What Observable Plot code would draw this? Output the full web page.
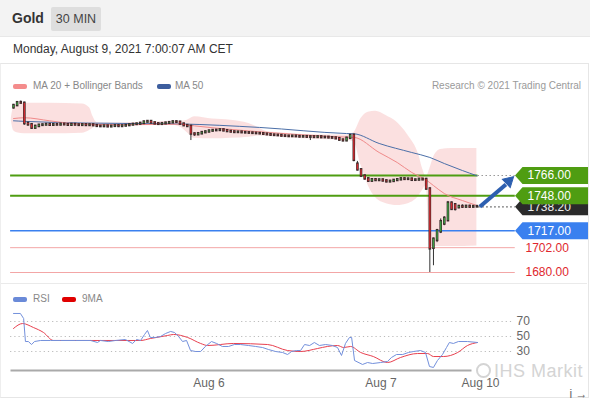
<!DOCTYPE html>
<html><head><meta charset="utf-8">
<script src="https://cdn.jsdelivr.net/npm/d3@7"></script>
<script src="https://cdn.jsdelivr.net/npm/@observablehq/plot@0.6"></script>
<style>
body{margin:0;width:590px;height:400px;overflow:hidden;font-family:"Liberation Sans",Arial,sans-serif;background:#fff;position:relative}
.abs{position:absolute}
#hdr{left:0;top:0;width:590px;height:36px;background:#f3f3f3;border-bottom:1px solid #e8e8e8}
#gold{left:12px;top:10px;font-size:14px;font-weight:bold;color:#333}
#tf{left:51px;top:7px;width:50px;height:24px;background:#dedede;color:#444;font-size:12.5px;line-height:24px;text-align:center;border-radius:2px}
#date{left:13px;top:42px;font-size:12px;color:#333}
#card{left:0;top:63px;width:587px;height:333px;border:1px solid #e6e6e6;border-left:1px solid #eee}
#sep{left:1px;top:283px;width:586px;height:1px;background:#eaeaea}
.lg{font-size:10px;color:#888;white-space:nowrap}
.sw{width:14px;height:5px;border-radius:2px}
#price,#rsi{left:0}
#price{top:95px}
#rsi{top:285px}
#wm{left:476px;top:361px;font-size:18px;color:#d4d4d4;white-space:nowrap;letter-spacing:0.5px;line-height:20px}
#wm .c{display:inline-block;width:11px;height:11px;border:2px solid #d4d4d4;border-radius:50%;vertical-align:-1px;margin-right:3px}
</style></head>
<body>
<div id="hdr" class="abs"></div>
<div id="gold" class="abs">Gold</div>
<div id="tf" class="abs">30 MIN</div>
<div id="date" class="abs">Monday, August 9, 2021 7:00:07 AM CET</div>
<div id="card" class="abs"></div>
<div id="sep" class="abs"></div>
<div class="abs sw" style="left:13px;top:84px;background:#f48c8c"></div>
<div class="abs lg" style="left:33px;top:80px">MA 20 + Bollinger Bands</div>
<div class="abs sw" style="left:157px;top:84px;background:#3d5e9e"></div>
<div class="abs lg" style="left:175px;top:80px">MA 50</div>
<div class="abs lg" style="right:9px;top:80px;color:#9a9a9a">Research © 2021 Trading Central</div>
<div class="abs sw" style="left:13px;top:297px;background:#6a8ad8"></div>
<div class="abs lg" style="left:33px;top:293px">RSI</div>
<div class="abs sw" style="left:62px;top:297px;background:#e00000"></div>
<div class="abs lg" style="left:82px;top:293px">9MA</div>
<div id="price" class="abs"></div>
<div id="rsi" class="abs"></div>
<div id="wm" class="abs"><span class="c"></span>IHS Markit</div>
<script>
// ---- candles (30 min) ----
const open = [1826,1828,1830.6,1830,1812,1811,1808,1809.5,1810.5,1810.8,
1811.2,1810.6,1811,1810.8,1811.4,1811,1810.6,1811.2,1810.8,1810.5,
1810.9,1810.4,1810.8,1810.2,1809.6,1809.4,1809.8,1809.2,1809.6,1810,
1809.5,1809.9,1810.3,1810.8,1811.3,1811.6,1812.2,1813.4,1813.8,1812.6,
1811.8,1811.4,1811.9,1812.4,1812.8,1813.5,1813.2,1811.6,1810.2,1809.6,
1802.8,1802.2,1803,1804,1804.6,1805.4,1805.8,1806,1806.4,1805.6,
1805,1804.6,1804.2,1804.4,1804,1803.8,1803.6,1803.4,1803.2,1803,
1802.6,1802.2,1801.8,1801.6,1801.4,1801,1800.8,1800.6,1800.8,1800.5,
1800.2,1800.4,1800,1800.2,1799.8,1800.2,1799.6,1799.8,1799.4,1799.2,
1798.6,1797.4,1796.8,1799,1801.6,1776,1771,1765.5,1763,1761,
1762.2,1761.6,1762,1761.2,1760.4,1760.8,1761.6,1762.2,1763,1762.6,
1762.8,1761.8,1762,1762.6,1762.4,1754,1701.5,1708.5,1716,1723,
1726,1741.5,1740,1737.5,1738.5,1738,1738.6,1738,1738.4];
const close = [1828,1830.5,1830.2,1812,1811,1808,1809.5,1810.5,1810.8,1811.2,
1810.6,1811,1810.8,1811.4,1811,1810.6,1811.2,1810.8,1810.5,1810.9,
1810.4,1810.8,1810.2,1809.6,1809.4,1809.8,1809.2,1809.6,1810,1809.5,
1809.9,1810.3,1810.8,1811.3,1811.6,1812.2,1813.4,1813.8,1812.6,1811.8,
1811.4,1811.9,1812.4,1812.8,1813.5,1813.2,1811.6,1810.2,1809.5,1802.8,
1802.2,1803,1804,1804.6,1805.4,1805.8,1806,1806.4,1805.6,1805,
1804.6,1804.2,1804.4,1804,1803.8,1803.6,1803.4,1803.2,1803,1802.6,
1802.2,1801.8,1801.6,1801.4,1801,1800.8,1800.6,1800.8,1800.5,1800.2,
1800.4,1800,1800.2,1799.8,1800.2,1799.6,1799.8,1799.4,1799.2,1798.6,
1797.4,1796.8,1799,1801.4,1779.5,1771,1765.5,1763,1761,1762.2,
1761.6,1762,1761.2,1760.4,1760.8,1761.6,1762.2,1763,1762.6,1762.8,
1761.8,1762,1762.6,1762.2,1754,1701,1709.5,1717,1725,1728,
1741.5,1736,1736,1738.5,1738,1738.6,1738,1738.4,1738.2];
const high = [1829,1831.5,1832,1831,1813.5,1812,1810.5,1811.3,1811.5,1812,
1811.9,1811.7,1811.6,1812.1,1812,1811.6,1811.9,1811.8,1811.4,1811.6,
1811.5,1811.4,1811.4,1810.8,1810.3,1810.5,1810.4,1810.3,1810.7,1810.6,
1810.6,1811,1811.5,1812,1812.3,1812.9,1814.2,1814.6,1814.4,1813.2,
1812.4,1812.6,1813.1,1813.5,1814.3,1814.2,1813.8,1812.2,1810.9,1810.2,
1803.6,1803.8,1804.8,1805.4,1806.2,1806.6,1806.8,1807.2,1807,1806.3,
1805.7,1805.3,1805.1,1805.1,1804.7,1804.5,1804.3,1804.1,1803.9,1803.7,
1803.3,1802.9,1802.5,1802.3,1802.1,1801.7,1801.5,1801.5,1801.5,1801.2,
1801.1,1801.1,1800.9,1800.9,1800.9,1800.9,1800.5,1800.5,1800.1,1799.9,
1799.3,1798.1,1799.8,1802.2,1802.6,1778.5,1772,1766.3,1763.8,1763,
1763,1762.8,1762.7,1761.9,1761.6,1762.4,1763,1763.8,1763.7,1763.5,
1763.5,1762.7,1763.3,1763.3,1763.5,1755,1710.5,1718.2,1727.5,1729.5,
1743,1742.5,1741,1739.5,1740,1739.5,1739.6,1739.2,1739];
const low = [1825,1827.5,1829.5,1810.5,1809.5,1807,1807.5,1808.8,1809.8,1810.2,
1810,1810,1810.1,1810.2,1810.4,1809.9,1810,1810.1,1809.8,1809.9,
1809.7,1809.8,1809.5,1808.9,1808.7,1808.8,1808.5,1808.6,1809,1808.8,
1808.9,1809.3,1809.7,1810.2,1810.7,1811,1811.6,1812.8,1812,1811.1,
1810.7,1810.8,1811.3,1811.8,1812.2,1812.5,1811,1809.5,1808.8,1797,
1800.8,1801.4,1802.3,1803.3,1804,1804.7,1805.1,1805.3,1804.9,1804.3,
1803.9,1803.5,1803.5,1803.3,1803.1,1802.9,1802.7,1802.5,1802.3,1801.9,
1801.5,1801.1,1800.9,1800.7,1800.3,1800.1,1799.9,1799.9,1799.8,1799.5,
1799.5,1799.3,1797,1799.1,1799.1,1798.9,1798.9,1798.7,1798.5,1797.9,
1796.6,1795.8,1796.1,1798.4,1778.2,1770,1764.2,1762,1760,1760.3,
1760.8,1760.9,1760.4,1759.6,1759.6,1760.1,1760.9,1761.5,1761.9,1761.9,
1761.1,1761.1,1761.3,1761.5,1753.2,1680,1686,1706.5,1714.5,1721.5,
1725,1735,1734.5,1736.5,1736.8,1737,1737.2,1737.3,1737.4];

// ---- moving averages ----
const ma20Idx = [0,3,10,16,30,46,50,56,65,80,92,94,101,106,110,114,116,119,124,128];
const ma20Val = [1816.5,1817.2,1814.5,1812.2,1811,1811.5,1810,1808,1805.5,1802,1800,1799.8,1786.4,1777.5,1768.7,1762,1757.1,1750,1743.8,1739.4];
const ma50Idx = [0,3,20,46,68,92,94,101,110,115,119,124,128];
const ma50Val = [1814.5,1814,1812.5,1811.7,1808.6,1803.2,1803,1794.4,1786.4,1782,1776.6,1770.4,1765.8];

// ---- Bollinger bands ----
const bandIdx = [-0.6,0,1,3,10,19,21,22,23,25,35,44,46,48,50,55,60,65,68,70,75,85,92,94,96,98,100,103,106,109,112,113,114,115,116,118,121,128];
const bandUp  = [1817,1826,1829,1830,1830,1829.5,1826,1818,1813,1812.5,1813,1814,1814,1815,1818,1816,1815,1812,1808,1805,1803.5,1802,1802,1804,1816.5,1822,1823,1819,1813,1801.5,1783.7,1772,1765,1772,1782,1789,1790,1790];
const bandLo  = [1815,1806,1804,1803,1803,1803.5,1806,1808,1809.5,1809,1810,1810.5,1809,1804,1799,1798.5,1799,1800,1801,1800.5,1799.5,1798,1797,1796,1775,1757,1746.5,1741,1739.4,1741,1748,1753,1757,1703,1703,1703,1703,1703.5];

// ---- levels ----
const levelValues = [1766, 1748, 1717, 1702, 1680];
const levelKinds  = ["res", "res", "pivot", "sup", "sup"];
const lastPrice = 1738.2;
const target = 1766;

// ---- RSI ----
const rsiIdx = [0,1.9,2.8,3.3,4.1,5,5.8,7.5,10.2,13,17.1,21.3,23.2,24,26.2,28.2,30.9,32.9,34,35.1,36.2,37,37.8,39.2,40.6,42,43.4,44.5,45.6,46.7,47.8,48.9,50.3,51.7,53,54.7,56.1,57.7,59.4,61,62.7,64.9,66.9,68.8,70.4,72.4,74.3,75.7,76.8,78.2,79.3,80.4,81.8,83.1,84.5,86.2,88.1,89.5,90.6,91.7,92.8,93.4,94.2,96.4,97.8,99.2,101.4,103.3,104.4,105.8,107.5,109.1,110.5,112.4,113.8,114.9,116,117.1,118.5,119.6,120.4,121.5,122.9,125.4,128.2];
const rsiVal = [80.7,80.7,74,43.3,43.3,39.3,43.3,44.7,44.7,44.7,44.7,44.7,42,44.7,43.3,44.7,46,40.7,46,44.7,52.7,58,48.7,48.7,50,54,56.7,55.3,50,43.3,44.7,31.3,30,30,36.7,43.3,40.7,36.7,36.7,39.3,39.3,38,36.7,35.3,32.7,30,28.7,26,30,31.3,31.3,39.3,38,42,38,39.3,38,35.3,24.7,40.7,48.7,48.7,18,12.7,15.3,14,15.3,16.7,22,26,26,28.7,30,31.3,28.7,10,8.7,18,26,35.3,42,40.7,43.3,43.3,42];
const ma9Idx = [0,2.5,5.5,8.3,11,15.7,24,35.1,37.8,42.5,44.2,48.1,51.7,53.6,60.8,70.2,75.7,79.3,84,86.7,89.5,91.2,93.1,95.9,99.4,103.3,106.9,111.6,114.4,116,118.8,122.7,125.4,128.2];
const ma9Val = [60.7,67.3,62,55.3,44.7,44.7,44.7,44.7,47.3,51.3,52.7,48.7,40.7,38,40.7,39.3,31.3,30,34,36.7,38,35.3,36.7,28.7,23.3,15.3,22,27.3,27.3,23.3,23.3,28.7,38,42];
const rsiLevels = [70, 50, 30];

// ---- time axis ----
const tickIdx = [54, 101.5, 129];
const tickLabels = ["Aug 6", "Aug 7", "Aug 10"];

// ================= build =================
const candles = open.map((o, i) => ({i, o, c: close[i], h: high[i], l: low[i]}));
const last = candles.length - 1;
const ma20 = ma20Idx.map((i, k) => ({i, v: ma20Val[k]}));
const ma50 = ma50Idx.map((i, k) => ({i, v: ma50Val[k]}));
const band = bandIdx.map((i, k) => ({i, up: bandUp[k], lo: bandLo[k]}));
const kindColor = {res: "#4f9d12", pivot: "#3a80ef", sup: "#f3a6a6"};
const levels = levelValues.map((v, k) => ({v, kind: levelKinds[k], color: kindColor[levelKinds[k]]}));
const tagLevels = levels.filter(d => d.kind !== "sup");
const supLevels = levels.filter(d => d.kind === "sup");
const rsi = rsiIdx.map((i, k) => ({i, v: rsiVal[k]}));
const ma9 = ma9Idx.map((i, k) => ({i, v: ma9Val[k]}));

const X = {domain: [0, 128], range: [13, 476.4], axis: null};
const lineStart = -0.8, lineEnd = 138.6;
const tag = {draw(ctx) {
  ctx.moveTo(-36.5, 0); ctx.lineTo(-29, -8.5); ctx.lineTo(36.5, -8.5);
  ctx.lineTo(36.5, 8.5); ctx.lineTo(-29, 8.5); ctx.closePath();
}};
const UP = "#3a9a40", DOWN = "#d02a30";
const lastX = () => last;

const price = Plot.plot({
  width: 590, height: 190, margin: 0,
  style: {overflow: "visible", fontFamily: "Liberation Sans, Arial, sans-serif"},
  x: X,
  y: {domain: [1680, 1766], range: [177, 80], axis: null},
  color: {type: "identity"},
  marks: [
    Plot.areaY(band, {x: "i", y1: "lo", y2: "up", curve: "monotone-x", fill: "#f9cccc", fillOpacity: 0.6}),
    Plot.ruleY(supLevels, {y: "v", x1: lineStart, x2: lineEnd, stroke: "#f3a6a6", strokeWidth: 1}),
    Plot.ruleY(tagLevels, {y: "v", x1: lineStart, x2: d => d.v === target ? last + 0.3 : lineEnd, stroke: "color", strokeWidth: d => d.kind === "res" ? 2 : 1.5}),
    Plot.ruleY([target], {x1: last + 0.3, x2: lineEnd, stroke: "#999", strokeDasharray: "1.5,2.5", strokeWidth: 1.2}),
    Plot.ruleY([lastPrice], {x1: last + 0.5, x2: lineEnd, stroke: "#555", strokeDasharray: "1.5,2.5", strokeWidth: 1.2}),
    Plot.line(ma50, {x: "i", y: "v", curve: "monotone-x", stroke: "#4b6fa8", strokeWidth: 1}),
    Plot.line(ma20, {x: "i", y: "v", curve: "monotone-x", stroke: "#f08a8a", strokeWidth: 1}),
    Plot.ruleX(candles, {x: "i", y1: "l", y2: "h", stroke: "#333", strokeWidth: 1}),
    Plot.ruleX(candles, {x: "i", y1: "o", y2: "c", stroke: "#3a2a2a", strokeWidth: 2.6, strokeLinecap: "square"}),
    Plot.ruleX(candles, {x: "i", y1: "o", y2: "c", stroke: d => d.c >= d.o ? UP : DOWN, strokeWidth: 1.4}),
    Plot.link([{x1: last + 0.8, y1: lastPrice, x2: last + 8, y2: 1758}], {x1: "x1", y1: "y1", x2: "x2", y2: "y2", stroke: "#2d5fb0", strokeWidth: 4}),
    Plot.dot([{x: last + 8.8, y: 1761}], {x: "x", y: "y", symbol: "triangle2", r: 5.5, rotate: 47, fill: "#2d5fb0", stroke: "#2d5fb0", strokeWidth: 1}),
    // last price tag (behind the 1748 tag)
    Plot.dot([lastPrice], {x: lastX, y: d => d, dx: 74.6, symbol: tag, r: 5, fill: "#2b2b2b"}),
    Plot.text([lastPrice], {x: lastX, y: d => d, dx: 50.6, text: d => d.toFixed(2), textAnchor: "start", fill: "#eee", fontSize: 12}),
    Plot.dot(tagLevels, {x: lastX, y: "v", dx: 74.6, symbol: tag, r: 5, fill: "color"}),
    Plot.text(tagLevels, {x: lastX, y: "v", dx: 50.6, text: d => d.v.toFixed(2), textAnchor: "start", fill: "white", fontSize: 12}),
    Plot.text(supLevels, {x: lastX, y: "v", dx: 48.6, text: d => d.v.toFixed(2), textAnchor: "start", fill: "#e0282e", fontSize: 12})
  ]
});
document.getElementById("price").appendChild(price);

const rsiPlot = Plot.plot({
  width: 590, height: 115, marginLeft: 11, marginRight: 120, marginTop: 0, marginBottom: 30,
  style: {overflow: "visible", fontFamily: "Liberation Sans, Arial, sans-serif"},
  x: X,
  y: {domain: [30, 70], range: [66, 36], axis: null},
  marks: [
    Plot.ruleY(rsiLevels, {x1: lineStart, x2: lineEnd - 0.3, stroke: "#bbb", strokeDasharray: "1.2,3", strokeWidth: 1}),
    Plot.text(rsiLevels, {x: lastX, y: d => d, dx: 39.6, text: d => String(d), textAnchor: "start", fill: "#666", fontSize: 12}),
    Plot.line(ma9, {x: "i", y: "v", curve: "monotone-x", stroke: "#e8404f", strokeWidth: 1}),
    Plot.line(rsi, {x: "i", y: "v", stroke: "#7390dc", strokeWidth: 1}),
    Plot.frame({anchor: "bottom", stroke: "#aaa", strokeWidth: 2}),
    Plot.axisX({ticks: tickIdx, tickFormat: d => tickLabels[tickIdx.indexOf(d)], tickSize: 0, tickPadding: 8, fontSize: 12, fill: "#666", stroke: "#666"})
  ]
});
document.getElementById("rsi").appendChild(rsiPlot);
</script>
</body></html>
